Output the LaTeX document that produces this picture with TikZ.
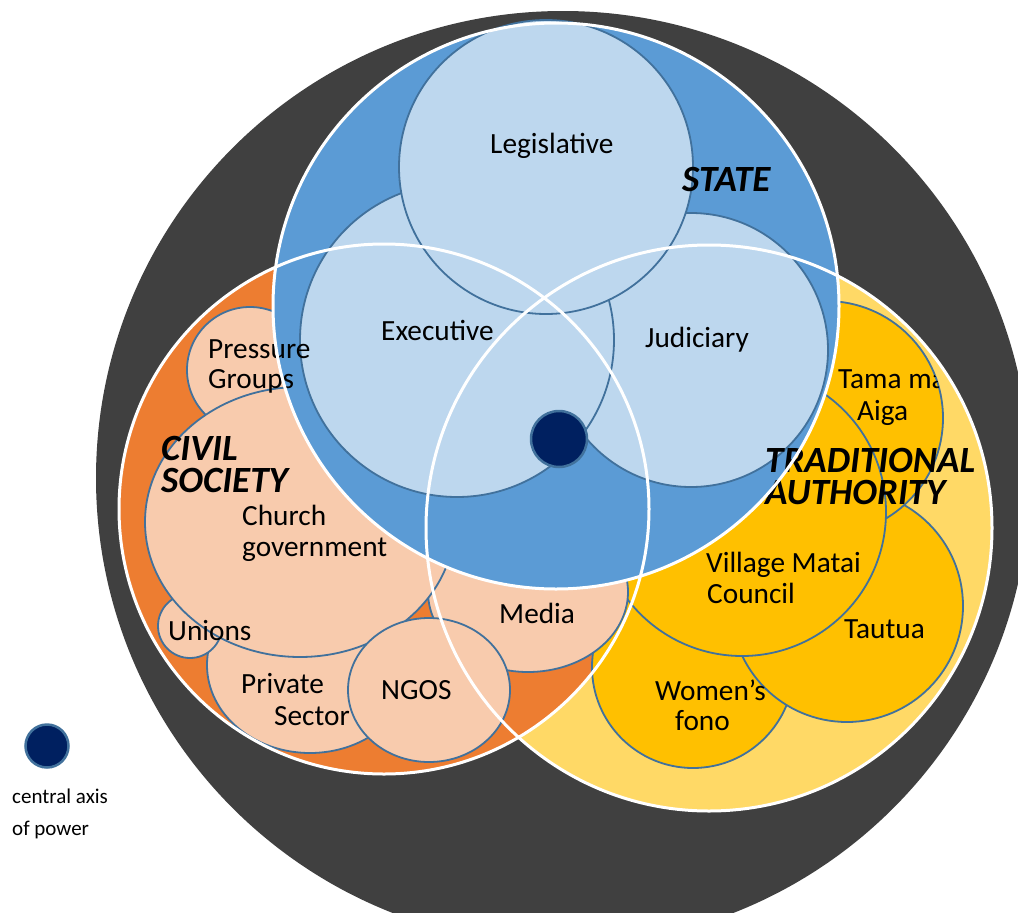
\documentclass[tikz,border=0pt]{standalone}
\usepackage{fontspec}
\setmainfont{Carlito}

\definecolor{ringgrey}{HTML}{404040}
\definecolor{statefill}{HTML}{5B9BD5}
\definecolor{statein}{HTML}{BDD7EE}
\definecolor{civilfill}{HTML}{ED7D31}
\definecolor{civilin}{HTML}{F8CBAD}
\definecolor{tradfill}{HTML}{FFD966}
\definecolor{tradin}{HTML}{FFC000}
\definecolor{edgeblue}{HTML}{41719C}
\definecolor{axisnavy}{HTML}{002060}

\tikzset{
  part/.style={draw=edgeblue, line width=1.8pt},
  statepart/.style={part, fill=statein},
  civilpart/.style={part, fill=civilin},
  tradpart/.style={part, fill=tradin},
  rim/.style={draw=white, line width=3pt},
  lbl/.style={anchor=base west, inner sep=0pt, font=\fontsize{29.3}{34}\selectfont},
  grp/.style={anchor=base west, inner sep=0pt, align=left, font=\fontsize{37}{32}\selectfont\bfseries\itshape},
  small/.style={anchor=base west, inner sep=0pt, font=\fontsize{21}{24}\selectfont},
  axisdot/.style={circle, fill=axisnavy, draw=edgeblue, line width=2.5pt, inner sep=0pt},
}

\begin{document}
\begin{tikzpicture}[x=1pt, y=-1pt]
\clip (0,0) rectangle (1018,913);
\fill[white] (0,0) rectangle (1018,913);

% outer ring
\fill[ringgrey] (563,478) circle[radius=467pt];

% the three spheres
\fill[tradfill] (709,528) circle[radius=283pt];
\fill[civilfill] (384,509) circle[radius=265pt];

% traditional authority members
\path[tradpart] (693,667) circle[radius=101pt];  % Women's fono
\path[tradpart] (847,606) circle[radius=116pt];  % Tautua
\path[tradpart] (826,418) circle[radius=117pt];  % Tama ma Aiga
\path[tradpart] (742,512) circle[radius=144pt];  % Village Matai Council

% civil society members
\path[civilpart] (310,665) ellipse[x radius=103pt, y radius=88pt]; % Private Sector
\path[civilpart] (190,626) circle[radius=32pt];                    % Unions
\path[civilpart] (528,592) ellipse[x radius=100pt, y radius=80pt]; % Media
\path[civilpart] (250,370) circle[radius=63pt];                    % Pressure Groups
\path[civilpart] (300,522) ellipse[x radius=155pt, y radius=135pt];% Church government
\path[civilpart] (429,690) ellipse[x radius=81pt, y radius=72pt];  % NGOS

% state and its branches
\fill[statefill] (556,306) circle[radius=283pt];
\path[statepart] (691,350) circle[radius=137pt];  % Judiciary
\path[statepart] (457,340) circle[radius=157pt];  % Executive
\path[statepart] (546,167) circle[radius=147pt];  % Legislative

% central axis of power
\node[axisdot, minimum size=56pt] (axis) at (559,439) {};

% labels (multi-line labels are anchored at the baseline of their last line)
\node[lbl] (legislative) at (490,153) {Legislative};
\node[grp] (statelbl) at (682,191) {STATE};
\node[lbl] (executive) at (381,340) {Executive};
\node[lbl] (judiciary) at (645,347) {Judiciary};

\node[lbl] (pressure) at (208,358) {Pressure};
\node[lbl] (groups) at (208,388) {Groups};
\node[grp] (civil) at (161,492) {CIVIL\\SOCIETY};
\node[lbl] (church) at (242,525) {Church};
\node[lbl] (government) at (242,556) {government};
\node[lbl] (unions) at (168,640) {Unions};
\node[lbl] (private) at (241,693) {Private};
\node[lbl] (sector) at (274,725) {Sector};
\node[lbl] (ngos) at (381,699) {NGOS};
\node[lbl] (media) at (499,623) {Media};

\begin{scope}
  \clip (826,418) circle[radius=117pt];
  \node[lbl] (tama) at (838,388) {Tama ma};
\end{scope}
\node[lbl] (aiga) at (857,420) {Aiga};
\node[grp] (traditional) at (765,504) {TRADITIONAL\\AUTHORITY};
\node[lbl] (village) at (706,572) {Village Matai};
\node[lbl] (council) at (707,603) {Council};
\node[lbl] (tautua) at (844,638) {Tautua};
\node[lbl] (women) at (655,700) {Women’s};
\node[lbl] (fono) at (675,730) {fono};

% white rims of the three spheres
\draw[rim] (556,306) circle[radius=283pt];
\draw[rim] (384,509) circle[radius=265pt];
\draw[rim] (709,528) circle[radius=283pt];

% legend
\node[axisdot, minimum size=43pt] (keydot) at (47,746) {};
\node[small] (key1) at (12,803) {central axis};
\node[small] (key2) at (12,835) {of power};
\end{tikzpicture}
\end{document}
